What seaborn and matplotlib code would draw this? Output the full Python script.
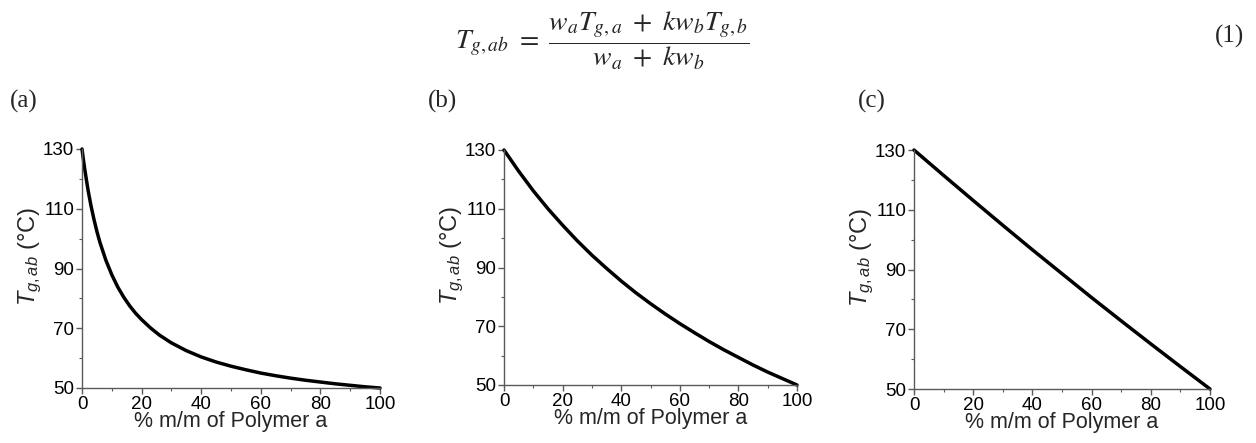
import matplotlib
matplotlib.use("Agg")
import matplotlib.pyplot as plt
import seaborn as sns
import pandas as pd
from matplotlib.ticker import MultipleLocator

# Glass transition temperature of a/b blends vs. composition
# (a) strongly curved, (b) moderately curved, (c) nearly linear
pct_a = [0, 0.5, 1, 2, 3, 4, 5, 6, 8, 10, 12, 14, 16, 18, 20, 23, 26, 30, 35,
         40, 45, 50, 55, 60, 65, 70, 75, 80, 85, 90, 95, 100]
tg_a = [130.0, 126.2, 122.7, 116.4, 111.1, 106.5, 102.4, 98.8, 92.8, 87.9,
        83.8, 80.4, 77.5, 75.0, 72.9, 70.1, 67.7, 65.1, 62.5, 60.4, 58.7,
        57.3, 56.1, 55.0, 54.1, 53.3, 52.6, 52.0, 51.4, 50.9, 50.4, 50.0]

pct_b = [0, 5, 10, 15, 20, 25, 30, 35, 40, 45, 50, 55, 60, 65, 70, 75, 80,
         85, 90, 95, 100]
tg_b = [130.0, 122.8, 116.1, 110.0, 104.4, 99.1, 94.2, 89.7, 85.4, 81.4,
        77.7, 74.2, 70.9, 67.8, 64.8, 62.0, 59.4, 56.8, 54.4, 52.2, 50.0]

pct_c = [0, 10, 20, 30, 40, 50, 60, 70, 80, 90, 100]
tg_c = [130.0, 121.5, 113.1, 104.8, 96.6, 88.6, 80.6, 72.8, 65.1, 57.5, 50.0]

x_ticks = [0, 20, 40, 60, 80, 100]
y_ticks = [50, 70, 90, 110, 130]
panel_tags = ["(a)", "(b)", "(c)"]
x_label = "% m/m of Polymer a"
y_label = r"$T_{g,ab}$ (°C)"
equation = (r"$T_{g,ab}\ =\ \dfrac{w_a T_{g,a}\ +\ k w_b T_{g,b}}"
            r"{w_a\ +\ k w_b}$")

sns.set_theme(style="ticks")
plt.rcParams["font.family"] = ["Liberation Sans", "DejaVu Sans"]
plt.rcParams["mathtext.fontset"] = "custom"
plt.rcParams["mathtext.rm"] = "Liberation Sans"
plt.rcParams["mathtext.it"] = "Liberation Sans:italic"

W, H = 1256, 443
fig = plt.figure(figsize=(W / 100, H / 100), dpi=100)
fig.patch.set_facecolor("white")

# axes boxes in pixels: (x0, x1, y_top, y_bottom)
boxes = [(82, 380, 149, 388), (504, 797, 150, 385), (914, 1210, 150, 389)]
series = [(pct_a, tg_a), (pct_b, tg_b), (pct_c, tg_c)]
tag_x = [10, 428, 858]

spine_col = "#5a5a5a"
for (x0, x1, yt, yb), (xs, ys), tag, tx in zip(boxes, series, panel_tags, tag_x):
    ax = fig.add_axes([x0 / W, 1 - yb / H, (x1 - x0) / W, (yb - yt) / H])
    df = pd.DataFrame({"pct": xs, "tg": ys})
    sns.lineplot(data=df, x="pct", y="tg", ax=ax, color="black",
                 linewidth=2.5, clip_on=False)
    ax.set_xlim(0, 100)
    ax.set_ylim(50, 130)
    ax.set_xticks(x_ticks)
    ax.set_yticks(y_ticks)
    ax.xaxis.set_minor_locator(MultipleLocator(10))
    ax.yaxis.set_minor_locator(MultipleLocator(10))
    sns.despine(ax=ax)
    for s in ("left", "bottom"):
        ax.spines[s].set_color(spine_col)
        ax.spines[s].set_linewidth(1.0)
    ax.tick_params(which="major", direction="out", length=4, width=1.0,
                   color=spine_col, labelsize=13.5, pad=1.5, labelcolor="black")
    ax.tick_params(which="minor", direction="out", length=2.5, width=0.8,
                   color=spine_col)
    ax.set_xlabel(x_label, fontsize=15.5, labelpad=-1)
    ax.set_ylabel(y_label, fontsize=17)
    ax.yaxis.set_label_coords(-38 / (x1 - x0), 0.55)
    ax.set_facecolor("white")
    fig.text(tx / W, 1 - 101 / H, tag, family="Liberation Serif",
             fontsize=18, ha="left", va="center")

fig.text(602 / W, 1 - 41 / H, equation, math_fontfamily="stix",
         fontsize=20, ha="center", va="center")
fig.text(1229 / W, 1 - 36 / H, "(1)", family="Liberation Serif",
         fontsize=18, ha="center", va="center")

fig.savefig("out.png", dpi=100, facecolor="white")
